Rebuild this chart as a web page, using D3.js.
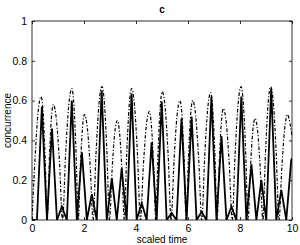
<!DOCTYPE html>
<html><head><meta charset="utf-8">
<script src="https://cdn.jsdelivr.net/npm/d3@7"></script>
<style>body{margin:0;background:#fff}svg{display:block}text{font-family:"Liberation Sans",Arial,sans-serif}</style>
</head><body>
<svg id="c" width="300" height="245"></svg>
<script>
const title = "c";
const xLabel = "scaled time";
const yLabel = "concurrence";
const xTicks = [0, 2, 4, 6, 8, 10];
const yTicks = [0, 0.2, 0.4, 0.6, 0.8, 1];
const yTickLabels = ["0", "0.2", "0.4", "0.6", "0.8", "1"];

// dash-dot series
const dashX = [0,0.117,0.233,0.35,0.428,0.507,0.585,0.663,0.742,0.82,0.938,1.057,1.175,1.293,1.412,1.53,1.613,1.697,1.78,1.86,1.94,2.02,2.13,2.24,2.35,2.463,2.577,2.69,2.787,2.883,2.98,3.08,3.18,3.28,3.37,3.46,3.55,3.643,3.737,3.83,3.943,4.057,4.17,4.283,4.397,4.51,4.593,4.677,4.76,4.843,4.927,5.01,5.123,5.237,5.35,5.463,5.577,5.69,5.77,5.85,5.93,6.013,6.097,6.18,6.297,6.413,6.53,6.643,6.757,6.87,6.953,7.037,7.12,7.2,7.28,7.36,7.473,7.587,7.7,7.813,7.927,8.04,8.13,8.22,8.31,8.4,8.49,8.58,8.68,8.78,8.88,8.98,9.08,9.18,9.287,9.393,9.5,9.61,9.72,9.83,9.93,10];
const dashY = [0,0.31,0.54,0.62,0.54,0.31,0,0.29,0.505,0.58,0.505,0.29,0,0.33,0.574,0.66,0.574,0.33,0,0.265,0.461,0.53,0.461,0.265,0,0.335,0.583,0.67,0.583,0.335,0,0.25,0.435,0.5,0.435,0.25,0,0.33,0.574,0.66,0.574,0.33,0,0.273,0.474,0.545,0.474,0.273,0,0.323,0.561,0.645,0.561,0.323,0,0.3,0.522,0.6,0.522,0.3,0,0.3,0.522,0.6,0.522,0.3,0,0.32,0.557,0.64,0.557,0.32,0,0.28,0.487,0.56,0.487,0.28,0,0.335,0.583,0.67,0.583,0.335,0,0.255,0.444,0.51,0.444,0.255,0,0.335,0.583,0.67,0.583,0.335,0,0.265,0.461,0.53,0.48,0.42];

// solid series
const solidX = [0,0.19,0.38,0.575,0.77,0.96,1.15,1.34,1.53,1.725,1.92,2.11,2.3,2.49,2.68,2.875,3.07,3.26,3.45,3.64,3.83,4.025,4.22,4.41,4.6,4.795,4.99,5.18,5.37,5.56,5.75,5.945,6.14,6.33,6.52,6.71,6.9,7.095,7.29,7.48,7.67,7.86,8.05,8.245,8.44,8.63,8.82,9.01,9.2,9.395,9.59,9.78,9.97,10];
const solidY = [0,0,0.57,0,0.46,0,0.067,0,0.6,0,0.34,0,0.13,0,0.65,0,0.21,0,0.26,0,0.635,0,0.085,0,0.39,0,0.595,0,0.035,0,0.51,0,0.52,0,0.04,0,0.62,0,0.42,0,0.067,0,0.62,0,0.28,0,0.2,0,0.66,0,0.15,0,0.3,0.31];

const svg = d3.select("#c");
const L = 32, R = 292, T = 21, B = 220;
const x = d3.scaleLinear().domain([0, 10]).range([L, R]);
const y = d3.scaleLinear().domain([0, 1]).range([B, T]);

svg.append("rect").attr("x", L).attr("y", T).attr("width", R - L).attr("height", B - T)
  .attr("fill", "#fff");

const g = svg.append("g");
g.append("clipPath").attr("id", "clip").append("rect").attr("x", L).attr("y", T).attr("width", R - L).attr("height", B - T);

const dashLine = d3.line().x((d, i) => x(dashX[i])).y((d, i) => y(dashY[i])).curve(d3.curveMonotoneX);
const solidLine = d3.line().x((d, i) => x(solidX[i])).y((d, i) => y(solidY[i]));

g.append("path").attr("clip-path", "url(#clip)").attr("d", solidLine(solidX))
  .attr("fill", "none").attr("stroke", "#000").attr("stroke-width", 1.8).attr("stroke-linejoin", "miter");
g.append("path").attr("clip-path", "url(#clip)").attr("d", dashLine(dashX))
  .attr("fill", "none").attr("stroke", "#000").attr("stroke-width", 1.2).attr("stroke-dasharray", "3.5,1.8,1.2,1.8");

// axes (ticks inside)
const tk = 3;
const axB = d3.axisBottom(x).tickValues(xTicks).tickSize(-tk).tickPadding(5).tickFormat(d3.format("d"));
const axT = d3.axisTop(x).tickValues(xTicks).tickSize(-tk).tickFormat("");
const axL = d3.axisLeft(y).tickValues(yTicks).tickSize(-tk).tickPadding(5).tickFormat((d, i) => yTickLabels[i]);
const axR = d3.axisRight(y).tickValues(yTicks).tickSize(-tk).tickFormat("");
function style(sel) {
  sel.select(".domain").remove();
  sel.selectAll("line").attr("stroke", "#000").attr("stroke-width", 0.8);
  sel.selectAll("text").attr("font-size", 10.5).attr("fill", "#000")
    .attr("font-family", "'Liberation Sans', Arial, sans-serif");
}
svg.append("g").attr("transform", `translate(0,${B})`).call(axB).call(style);
svg.append("g").attr("transform", `translate(0,${T})`).call(axT).call(style);
svg.append("g").attr("transform", `translate(${L},0)`).call(axL).call(style);
svg.append("g").attr("transform", `translate(${R},0)`).call(axR).call(style);

svg.append("rect").attr("x", L).attr("y", T).attr("width", R - L).attr("height", B - T)
  .attr("fill", "none").attr("stroke", "#000").attr("stroke-width", 0.8);

svg.append("text").attr("x", (L + R) / 2).attr("y", 13).attr("text-anchor", "middle")
  .attr("font-size", 10).attr("font-weight", "bold").text(title);
svg.append("text").attr("x", (L + R) / 2).attr("y", 242.5).attr("text-anchor", "middle")
  .attr("font-size", 10).text(xLabel);
svg.append("text").attr("transform", `translate(11,${(T + B) / 2}) rotate(-90)`).attr("text-anchor", "middle")
  .attr("font-size", 10).text(yLabel);
</script>
</body></html>
